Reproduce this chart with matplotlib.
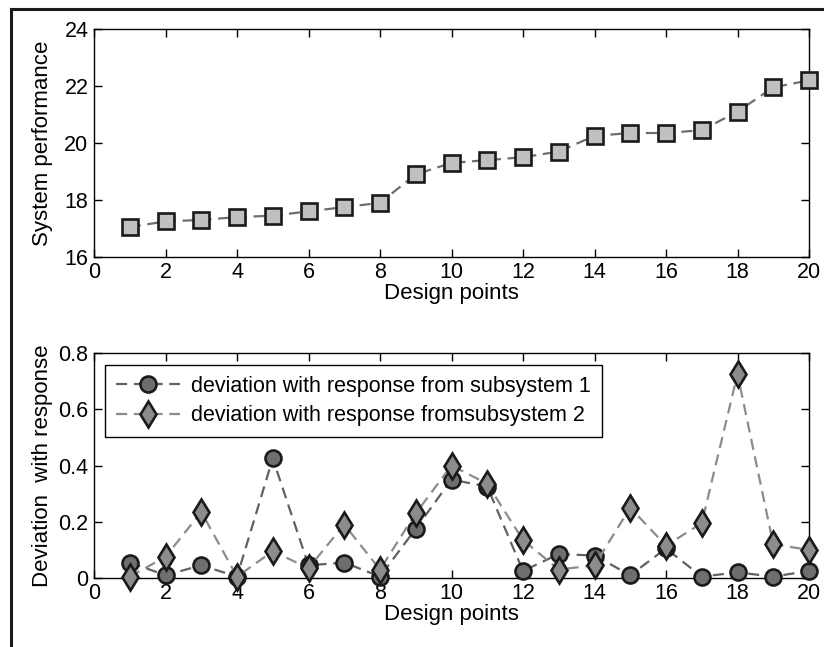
import matplotlib
matplotlib.use("Agg")
import matplotlib.pyplot as plt
from matplotlib.lines import Line2D

plt.rcParams['font.family'] = ['Liberation Sans', 'DejaVu Sans']

design_points = list(range(1, 21))
system_performance = [17.05, 17.25, 17.3, 17.4, 17.45, 17.6, 17.75, 17.9, 18.9, 19.3,
                      19.4, 19.5, 19.7, 20.25, 20.35, 20.35, 20.45, 21.1, 21.95, 22.2]
dev_sub1 = [0.055, 0.01, 0.045, 0.005, 0.425, 0.045, 0.055, 0.005, 0.175, 0.35,
            0.325, 0.025, 0.085, 0.08, 0.01, 0.105, 0.005, 0.02, 0.005, 0.025]
dev_sub2 = [0.005, 0.075, 0.235, 0.005, 0.095, 0.035, 0.19, 0.03, 0.23, 0.40,
            0.335, 0.135, 0.03, 0.045, 0.25, 0.115, 0.195, 0.725, 0.12, 0.10]
label1 = "deviation with response from subsystem 1"
label2 = "deviation with response fromsubsystem 2"

fig = plt.figure(figsize=(8.24, 6.47), dpi=100)
ax1 = fig.add_axes([94/824, 1-257/647, (809-94)/824, (257-29)/647])
ax2 = fig.add_axes([94/824, 1-578/647, (809-94)/824, (578-353)/647])

fs = 15.5
fl = 16

def style(ax):
    ax.tick_params(direction='in', top=True, right=True, length=6, width=1, labelsize=fs)
    ax.tick_params(axis='x', pad=3.5)
    ax.tick_params(axis='y', pad=4)
    for s in ax.spines.values():
        s.set_linewidth(1.0)
    ax.set_xlim(0, 20)
    ax.set_xticks(range(0, 21, 2))

ax1.plot(design_points, system_performance, linestyle='--', dashes=(5, 3), color='#6e6e6e', lw=1.6,
         marker='s', markersize=11.5, markerfacecolor='#c0c0c0', markeredgecolor='#1a1a1a',
         markeredgewidth=1.9, clip_on=False, zorder=3)
style(ax1)
ax1.set_ylim(16, 24)
ax1.set_yticks([16, 18, 20, 22, 24])
ax1.set_xlabel("Design points", fontsize=fl, labelpad=0)
ax1.set_ylabel("System performance", fontsize=fl)
ax1.yaxis.set_label_coords(-0.057, 0.5)

ax2.plot(design_points, dev_sub1, linestyle='--', dashes=(5, 3), color='#616161', lw=1.6,
         marker='o', markersize=11.5, markerfacecolor='#6e6e6e', markeredgecolor='#1a1a1a',
         markeredgewidth=1.9, clip_on=False, zorder=3, label=label1)
ax2.plot(design_points, dev_sub2, linestyle='--', dashes=(5, 3), color='#8c8c8c', lw=1.6,
         marker='d', markersize=13.5, markerfacecolor='#8c8c8c', markeredgecolor='#1a1a1a',
         markeredgewidth=1.9, clip_on=False, zorder=4, label=label2)
style(ax2)
ax2.set_ylim(0, 0.8)
ax2.set_yticks([0, 0.2, 0.4, 0.6, 0.8])
ax2.set_yticklabels(['0', '0.2', '0.4', '0.6', '0.8'])
ax2.set_xlabel("Design points", fontsize=fl, labelpad=0)
ax2.set_ylabel("Deviation  with response", fontsize=fl)
ax2.yaxis.set_label_coords(-0.057, 0.5)
leg = ax2.legend(loc='upper left', bbox_to_anchor=(0.0154, 0.9467), fontsize=fs, fancybox=False,
                 edgecolor='black', framealpha=1, handlelength=3.0, handletextpad=0.5,
                 borderpad=0.5, labelspacing=0.4, borderaxespad=0)
leg.get_frame().set_linewidth(1.0)

# figure frame (top and left edges)
fig.add_artist(Line2D([11/824, 1.0], [1-8.5/647, 1-8.5/647], color='#1a1a1a', lw=2.2,
                      transform=fig.transFigure))
fig.add_artist(Line2D([11/824, 11/824], [0, 1-8.5/647], color='#1a1a1a', lw=2.2,
                      transform=fig.transFigure))

fig.savefig("out.png", dpi=100)
